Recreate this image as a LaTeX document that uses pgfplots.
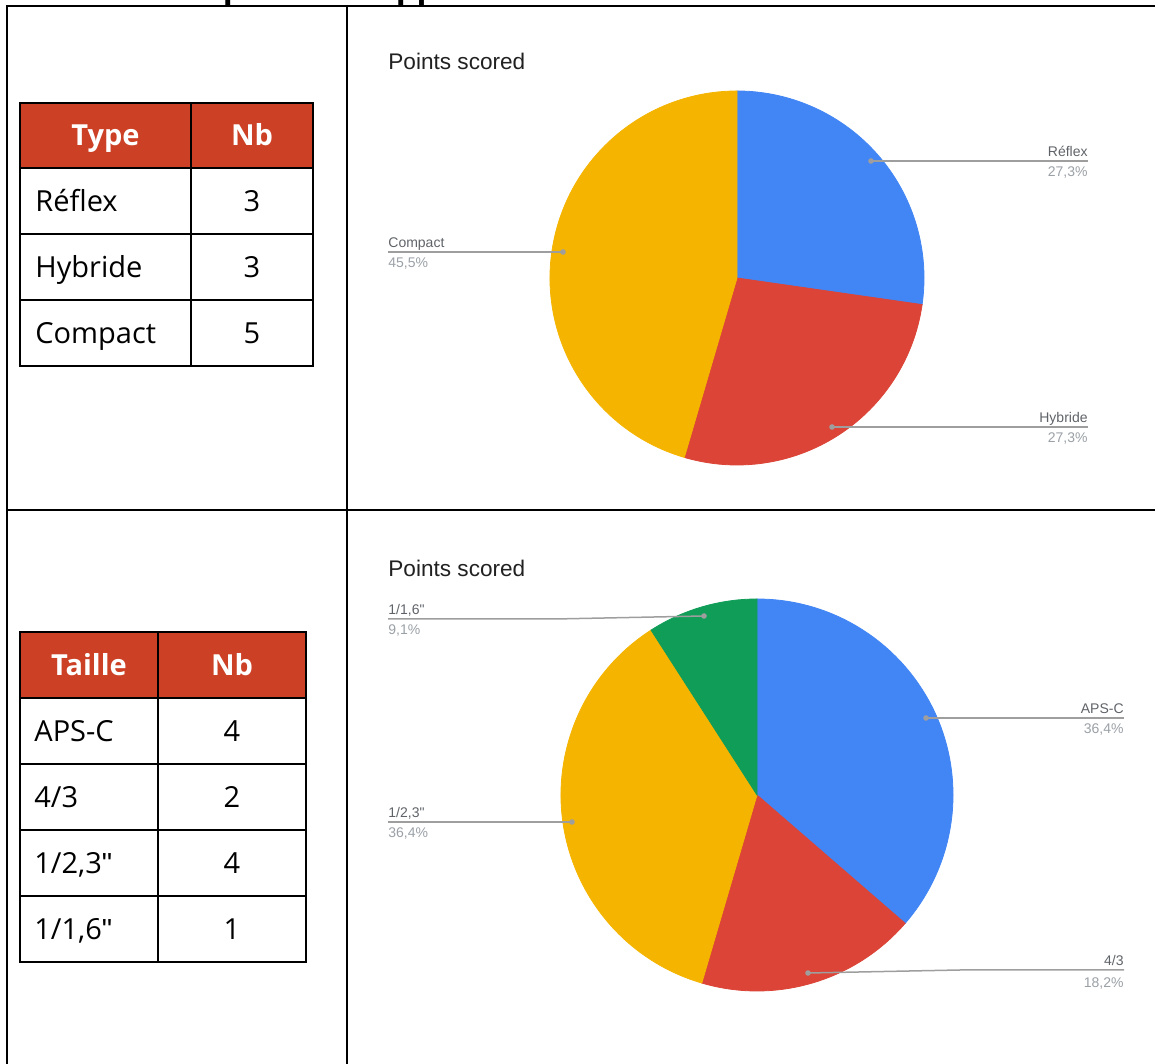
\documentclass[border=0pt]{standalone}
\usepackage{pgfplots}
\pgfplotsset{compat=1.18}
\usepackage{pgfplotstable}
\usepackage{fontspec}
\setmainfont{Open Sans}
\newfontfamily\gfont{Liberation Sans}

\definecolor{gblue}{HTML}{4285F4}
\definecolor{gred}{HTML}{DB4437}
\definecolor{gyellow}{HTML}{F4B400}
\definecolor{ggreen}{HTML}{0F9D58}
\definecolor{hdr}{HTML}{CC4125}
\definecolor{lname}{HTML}{5F6368}
\definecolor{lpct}{HTML}{9AA0A6}
\definecolor{lline}{HTML}{9E9E9E}

% camera type (c: 0 blue, 1 red, 2 yellow, 3 green)
\pgfplotstableread{
type n c
Reflex 3 0
Hybride 3 1
Compact 5 2
}\typetbl
% sensor size
\pgfplotstableread{
size n c
APS-C 4 0
4/3 2 1
1/2,3 4 2
1/1,6 1 3
}\sizetbl
\pgfplotstablecreatecol[create col/expr accum={\pgfmathaccuma+\thisrow{n}}{0}]{cum}\typetbl
\pgfplotstablecreatecol[create col/expr accum={\pgfmathaccuma+\thisrow{n}}{0}]{cum}\sizetbl

% 1px = 0.5pt
\pgfplotsset{
  pie/.style 2 args={scatter, only marks, mark=*, mark size=0pt,
    mark options={draw=none, fill=none},
    visualization depends on={\thisrow{n}\as\nn},
    visualization depends on={\thisrow{cum}\as\cum},
    visualization depends on={\thisrow{c}\as\cidx},
    scatter/@pre marker code/.code={%
      \pgfmathsetmacro\aone{90-(\cum-\nn)*360/#1}%
      \pgfmathsetmacro\atwo{90-\cum*360/#1}%
      \pgfmathtruncatemacro\ci{\cidx}%
      \ifcase\ci\def\cname{gblue}\or\def\cname{gred}\or\def\cname{gyellow}\else\def\cname{ggreen}\fi
      \fill[\cname] (canvas cs:x=0pt,y=0pt) -- (canvas polar cs:angle=\aone,radius=#2)
        arc[start angle=\aone, end angle=\atwo, radius=#2] -- cycle;
    },
    scatter/@post marker code/.code={},
  },
}
\tikzset{
  cell/.style={font=\fontsize{14.5}{17}\selectfont, anchor=base, inner xsep=0pt},
  hcell/.style={font=\bfseries\fontsize{14.5}{17}\selectfont, text=white, anchor=base},
  lname/.style={font=\gfont\fontsize{7}{8}\selectfont, text=lname, inner xsep=0pt},
  lpct/.style={font=\gfont\fontsize{7}{8}\selectfont, text=lpct, inner xsep=0pt},
  ttl/.style={font=\gfont\fontsize{11.3}{13}\selectfont, text=black!87, anchor=base west, inner xsep=0pt},
  lead/.style={lline, line width=0.75pt},
}
\newcommand\dq{{\gfont\symbol{34}}}

\begin{document}
\begin{tikzpicture}
\begin{axis}[
  x=0.5pt, y=0.5pt,
  xmin=0, xmax=1155, ymin=0, ymax=1064,
  y dir=reverse,
  scale only axis,
  hide axis,
  clip=false,
  set layers,
  mark layer=axis background,
]
% cut heading above the frame
\node[anchor=base west, font=\bfseries\fontsize{16.3}{20}\selectfont] at (axis cs:175,-1) {Répartition appareils};

% pies
\addplot[pie={11}{93.5pt}] table[x expr=737, y expr=278] {\typetbl};
\addplot[pie={11}{98pt}] table[x expr=757, y expr=795] {\sizetbl};

% frame
\draw[line width=1pt] (axis cs:7,1070) -- (axis cs:7,6) -- (axis cs:1160,6);
\draw[line width=1pt] (axis cs:347,6) -- (axis cs:347,1070);
\draw[line width=1pt] (axis cs:7,510) -- (axis cs:1160,510);

% table 1
\fill[hdr] (axis cs:20,103) rectangle (axis cs:313,168);
\draw[line width=1pt] (axis cs:20,103) rectangle (axis cs:313,366);
\draw[line width=1pt] (axis cs:191,103) -- (axis cs:191,366);
\pgfplotsinvokeforeach{168,234,300}{\draw[line width=1pt] (axis cs:20,#1) -- (axis cs:313,#1);}
\node[hcell] at (axis cs:105.5,145.5) {Type};
\node[hcell] at (axis cs:252,145.5) {Nb};
\node[cell, anchor=base west] at (axis cs:35,211.5) {Réflex};
\node[cell] at (axis cs:252,211.5) {3};
\node[cell, anchor=base west] at (axis cs:35,277.5) {Hybride};
\node[cell] at (axis cs:252,277.5) {3};
\node[cell, anchor=base west] at (axis cs:35,343.5) {Compact};
\node[cell] at (axis cs:252,343.5) {5};

% table 2
\fill[hdr] (axis cs:20,632) rectangle (axis cs:306,698);
\draw[line width=1pt] (axis cs:20,632) rectangle (axis cs:306,962);
\draw[line width=1pt] (axis cs:158,632) -- (axis cs:158,962);
\pgfplotsinvokeforeach{698,764,830,896}{\draw[line width=1pt] (axis cs:20,#1) -- (axis cs:306,#1);}
\node[hcell] at (axis cs:89,675.5) {Taille};
\node[hcell] at (axis cs:232,675.5) {Nb};
\node[cell, anchor=base west] at (axis cs:34,741.5) {APS-C};
\node[cell] at (axis cs:232,741.5) {4};
\node[cell, anchor=base west] at (axis cs:34,807.5) {4/3};
\node[cell] at (axis cs:232,807.5) {2};
\node[cell, anchor=base west] at (axis cs:34,873.5) {1/2,3\dq};
\node[cell] at (axis cs:232,873.5) {4};
\node[cell, anchor=base west] at (axis cs:34,939.5) {1/1,6\dq};
\node[cell] at (axis cs:232,939.5) {1};

% titles
\node[ttl] at (axis cs:388,70) {Points scored};
\node[ttl] at (axis cs:388,577) {Points scored};

% leader lines, top pie
\draw[lead] (axis cs:871,161) -- (axis cs:1088,161);
\fill[lline] (axis cs:871,161) circle[radius=1.4pt];
\node[lname, anchor=base east] at (axis cs:1088,157) {Réflex};
\node[lpct, anchor=base east] at (axis cs:1088,177) {27,3\%};
\draw[lead] (axis cs:388,252) -- (axis cs:563,252);
\fill[lline] (axis cs:563,252) circle[radius=1.4pt];
\node[lname, anchor=base west] at (axis cs:388,248) {Compact};
\node[lpct, anchor=base west] at (axis cs:388,268) {45,5\%};
\draw[lead] (axis cs:832,427) -- (axis cs:1088,427);
\fill[lline] (axis cs:832,427) circle[radius=1.4pt];
\node[lname, anchor=base east] at (axis cs:1088,423) {Hybride};
\node[lpct, anchor=base east] at (axis cs:1088,443) {27,3\%};

% leader lines, bottom pie
\draw[lead] (axis cs:388,619) -- (axis cs:555,619) -- (axis cs:704,616);
\fill[lline] (axis cs:704,616) circle[radius=1.4pt];
\node[lname, anchor=base west] at (axis cs:388,615) {1/1,6\dq};
\node[lpct, anchor=base west] at (axis cs:388,635) {9,1\%};
\draw[lead] (axis cs:926,718) -- (axis cs:1124,718);
\fill[lline] (axis cs:926,718) circle[radius=1.4pt];
\node[lname, anchor=base east] at (axis cs:1124,714) {APS-C};
\node[lpct, anchor=base east] at (axis cs:1124,734) {36,4\%};
\draw[lead] (axis cs:388,822) -- (axis cs:572,822);
\fill[lline] (axis cs:572,822) circle[radius=1.4pt];
\node[lname, anchor=base west] at (axis cs:388,818) {1/2,3\dq};
\node[lpct, anchor=base west] at (axis cs:388,838) {36,4\%};
\draw[lead] (axis cs:808,973) -- (axis cs:960,970) -- (axis cs:1124,970);
\fill[lline] (axis cs:808,973) circle[radius=1.4pt];
\node[lname, anchor=base east] at (axis cs:1124,966) {4/3};
\node[lpct, anchor=base east] at (axis cs:1124,988) {18,2\%};
\end{axis}
\pgfresetboundingbox
\path (0,0) rectangle (577.5pt,532pt);
\end{tikzpicture}
\end{document}
